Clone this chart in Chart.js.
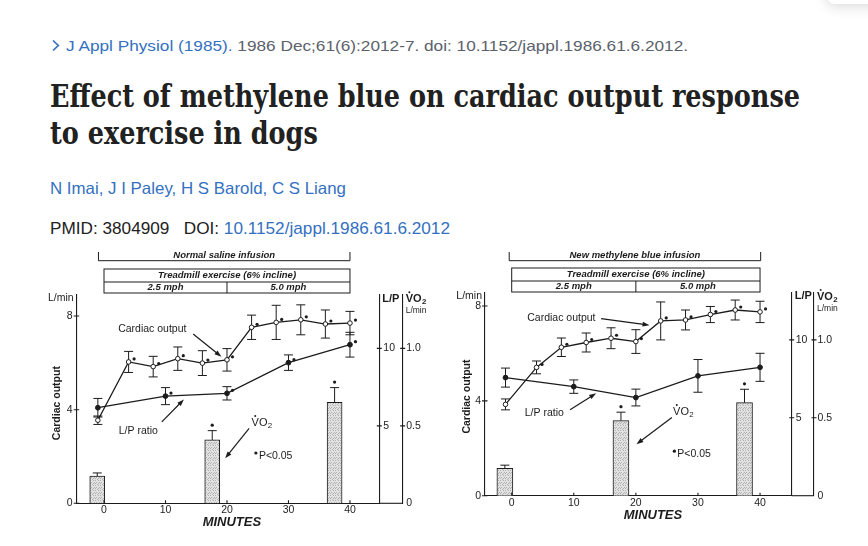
<!DOCTYPE html>
<html>
<head>
<meta charset="utf-8">
<script src="https://cdn.jsdelivr.net/npm/chart.js@4.4.1/dist/chart.umd.min.js"></script>
<style>
  body { margin: 0; width: 868px; height: 546px; background: #fff; position: relative; overflow: hidden;
         font-family: "Liberation Sans", Arial, sans-serif; }
  .t { position: absolute; white-space: nowrap; transform-origin: 0 0; line-height: 1; }
  .blue { color: #3470c0; }
  .grey { color: #5b616b; }
  .title { font-family: "DejaVu Serif", serif; font-weight: bold; font-size: 31px; color: #212121; }
  .popup { position: absolute; left: 827px; top: -40px; width: 80px; height: 44px; background: #fff;
           border-radius: 8px; box-shadow: 0 2px 14px rgba(0,0,0,0.16); }
  canvas { position: absolute; }
</style>
</head>
<body>
<div class="popup"></div>
<svg style="position:absolute;left:0;top:0" width="70" height="60">
  <polyline points="53,40.5 58.3,45.5 53,50.5" fill="none" stroke="#3470c0" stroke-width="1.7"/>
</svg>
<div class="t" id="journal" data-w="622" style="left:66px;top:37.7px;font-size:15px"><span class="blue">J Appl Physiol (1985).</span> <span class="grey">1986 Dec;61(6):2012-7. doi: 10.1152/jappl.1986.61.6.2012.</span></div>
<div class="t title" id="title1" style="left:50px;top:81px">Effect of methylene blue on cardiac output response</div>
<div class="t title" id="title2" style="left:50px;top:118px">to exercise in dogs</div>
<div class="t blue" id="authors" data-w="296" style="left:50px;top:180px;font-size:16.5px">N Imai, J I Paley, H S Barold, C S Liang</div>
<div class="t" id="pmid" data-w="400" style="left:50px;top:219.5px;font-size:17px;color:#212121">PMID: 3804909&nbsp;&nbsp;&nbsp;DOI: <span class="blue">10.1152/jappl.1986.61.6.2012</span></div>

<canvas id="left" width="420" height="295" style="left:20px;top:245px"></canvas>
<canvas id="right" width="420" height="295" style="left:440px;top:245px"></canvas>

<script>
// ---- data ----
const xTicks = [0, 10, 20, 30, 40]
const minutesCO = [-1, 4, 8, 12, 16, 20, 24, 28, 32, 36, 40]
const minutesLP = [-1, 10, 20, 30, 40]
const minutesVO2 = [-1.1, 17.6, 37.5]

// normal saline infusion
const salineCO = [3.55, 6.04, 5.84, 6.18, 5.99, 6.13, 7.52, 7.73, 7.84, 7.66, 7.70]
const salineCOErr = [0.18, 0.45, 0.44, 0.5, 0.53, 0.48, 0.52, 0.73, 0.64, 0.6, 0.5]
const salineCOSig = [0, 1, 1, 1, 1, 1, 1, 1, 1, 1, 1]
const salineLP = [6.17, 6.92, 7.1, 9.08, 10.24]
const salineLPErr = [0.6, 0.55, 0.43, 0.5, 0.8]
const salineLPSig = [0, 1, 1, 1, 1]
const salineVO2 = [0.176, 0.409, 0.652]
const salineVO2Err = [0.02, 0.06, 0.095]
const salineVO2Sig = [0, 1, 1]

// new methylene blue infusion
const blueCO = [3.85, 5.41, 6.26, 6.46, 6.64, 6.5, 7.37, 7.41, 7.64, 7.83, 7.75]
const blueCOErr = [0.23, 0.27, 0.39, 0.4, 0.44, 0.5, 0.8, 0.42, 0.34, 0.42, 0.45]
const blueCOSig = [0, 1, 1, 1, 1, 1, 1, 1, 1, 1, 1]
const blueLP = [7.58, 7.0, 6.3, 7.69, 8.24]
const blueLPErr = [0.61, 0.43, 0.54, 1.05, 0.9]
const blueLPSig = [0, 0, 0, 0, 0]
const blueVO2 = [0.176, 0.482, 0.597]
const blueVO2Err = [0.02, 0.054, 0.086]
const blueVO2Sig = [0, 1, 1]

// ---- header text fitting ----
function fitWidth(el, target){
    let w = el.getBoundingClientRect().width
    el.style.transform = `scaleX(${target / w})`
}
for(let id of ["journal", "authors", "pmid"]){
    let el = document.getElementById(id)
    fitWidth(el, +el.dataset.w)
}
let t1 = document.getElementById("title1")
let titleScale = 750 / t1.getBoundingClientRect().width
t1.style.transform = `scaleX(${titleScale})`
document.getElementById("title2").style.transform = `scaleX(${titleScale})`

// ---- figure drawing ----
const INK = "#1c1c1c"
const FONT = '"Liberation Sans", Arial, sans-serif'

function stipple(){
    // light grey dot screen like the printed bars, dots scattered so no diagonal shows
    let c = document.createElement("canvas")
    c.width = 5; c.height = 5
    let g = c.getContext("2d")
    g.fillStyle = "#e2e2e2"; g.fillRect(0, 0, 5, 5)
    g.fillStyle = "#b0b0b0"
    for(let [px, py] of [[0, 0], [3, 0], [1, 2], [4, 2], [2, 4], [0, 3], [3, 3]]) g.fillRect(px, py, 1, 1)
    return g.createPattern(c, "repeat")
}

function arrow(ctx, x1, y1, x2, y2){
    let a = Math.atan2(y2 - y1, x2 - x1)
    ctx.beginPath()
    ctx.moveTo(x1, y1)
    ctx.lineTo(x2 - 4 * Math.cos(a), y2 - 4 * Math.sin(a))
    ctx.stroke()
    ctx.beginPath()
    ctx.moveTo(x2, y2)
    ctx.lineTo(x2 - 7 * Math.cos(a) + 2.4 * Math.sin(a), y2 - 7 * Math.sin(a) - 2.4 * Math.cos(a))
    ctx.lineTo(x2 - 7 * Math.cos(a) - 2.4 * Math.sin(a), y2 - 7 * Math.sin(a) + 2.4 * Math.cos(a))
    ctx.closePath()
    ctx.fill()
}

function vo2Text(ctx, x, y, size, weight){
    ctx.font = `${weight} ${size}px ${FONT}`
    ctx.textAlign = "left"
    ctx.textBaseline = "middle"
    ctx.fillText("VO", x, y)
    let wV = ctx.measureText("V").width
    let wVO = ctx.measureText("VO").width
    ctx.beginPath()
    ctx.arc(x + wV / 2, y - size * 0.62, size * 0.09, 0, Math.PI * 2)
    ctx.fill()
    ctx.font = `${weight} ${size * 0.72}px ${FONT}`
    ctx.fillText("2", x + wVO + 0.3, y + size * 0.25)
}

function star(ctx, x, y){
    ctx.beginPath()
    ctx.arc(x, y, 1.6, 0, Math.PI * 2)
    ctx.fill()
}

function figurePlugin(p){
    return {
        id: "figure",
        beforeDatasetsDraw(chart){
            let ctx = chart.ctx
            ctx.save()
            ctx.strokeStyle = INK
            ctx.lineWidth = 1
            chart.data.datasets.forEach((ds, i) => {
                let meta = chart.getDatasetMeta(i)
                let ys = chart.scales[ds.yAxisID]
                meta.data.forEach((el, j) => {
                    let v = ds.data[j].y, e = ds.errors[j]
                    let top = ys.getPixelForValue(v + e)
                    let bot = ys.getPixelForValue(ds.upOnly ? v : v - e)
                    ctx.beginPath()
                    ctx.moveTo(el.x, top); ctx.lineTo(el.x, bot)
                    ctx.moveTo(el.x - 4.5, top); ctx.lineTo(el.x + 4.5, top)
                    if(!ds.upOnly){ ctx.moveTo(el.x - 4.5, bot); ctx.lineTo(el.x + 4.5, bot) }
                    ctx.stroke()
                })
            })
            ctx.restore()
        },
        afterDatasetsDraw(chart){
            let ctx = chart.ctx
            ctx.save()
            ctx.fillStyle = INK
            chart.data.datasets.forEach((ds, i) => {
                let meta = chart.getDatasetMeta(i)
                let ys = chart.scales[ds.yAxisID]
                meta.data.forEach((el, j) => {
                    if(!ds.sig[j]) return
                    if(ds.upOnly){
                        star(ctx, el.x, ys.getPixelForValue(ds.data[j].y + ds.errors[j]) - 5.5)
                    } else {
                        star(ctx, el.x + 5.5, el.y - 3)
                    }
                })
            })
            ctx.restore()
        },
        afterDraw(chart){
            let ctx = chart.ctx
            let area = chart.chartArea
            let xs = chart.scales.x, ys = chart.scales.y
            let lp = chart.scales.yLP, vo = chart.scales.yVO2
            let X = v => xs.getPixelForValue(v)
            let Y = v => ys.getPixelForValue(v)
            ctx.save()
            ctx.strokeStyle = INK
            ctx.fillStyle = INK
            ctx.lineWidth = 1.1

            // axis line continues under the right-hand scales
            ctx.beginPath()
            ctx.moveTo(area.right, area.bottom); ctx.lineTo(vo.left, area.bottom)
            ctx.stroke()

            // tick marks
            ctx.beginPath()
            for(let v of [0, 4, 8]){ ctx.moveTo(area.left - 3, Y(v)); ctx.lineTo(area.left + 2.5, Y(v)) }
            for(let v of xTicks){ ctx.moveTo(X(v), area.bottom); ctx.lineTo(X(v), area.bottom - 3) }
            for(let v of [5, 10]){ ctx.moveTo(lp.left - 2.5, lp.getPixelForValue(v)); ctx.lineTo(lp.left + 2.5, lp.getPixelForValue(v)) }
            for(let v of [0.5, 1.0]){ ctx.moveTo(vo.left - 2.5, vo.getPixelForValue(v)); ctx.lineTo(vo.left + 2.5, vo.getPixelForValue(v)) }
            ctx.stroke()

            // infusion bracket and treadmill table
            let top = area.top
            ctx.lineWidth = 1
            ctx.beginPath()
            ctx.moveTo(X(p.bracket[0]), top - p.hdr.bracketEnd)
            ctx.lineTo(X(p.bracket[0]), top - p.hdr.bracket)
            ctx.lineTo(X(p.bracket[1]), top - p.hdr.bracket)
            ctx.lineTo(X(p.bracket[1]), top - p.hdr.bracketEnd)
            ctx.stroke()
            ctx.strokeRect(X(0), top - p.hdr.box, X(40) - X(0), p.hdr.box - p.hdr.boxBottom)
            ctx.beginPath()
            ctx.moveTo(X(0), top - p.hdr.mid); ctx.lineTo(X(40), top - p.hdr.mid)
            ctx.moveTo(X(20), top - p.hdr.mid); ctx.lineTo(X(20), top - p.hdr.boxBottom)
            ctx.stroke()

            ctx.font = `italic bold 9.5px ${FONT}`
            ctx.textAlign = "center"
            ctx.textBaseline = "middle"
            ctx.fillText(p.infusion, (X(p.bracket[0]) + X(p.bracket[1])) / 2, top - p.hdr.text)
            ctx.fillText("Treadmill exercise (6% incline)", X(20), top - (p.hdr.box + p.hdr.mid) / 2)
            ctx.fillText("2.5 mph", X(10), top - (p.hdr.mid + p.hdr.boxBottom) / 2)
            ctx.fillText("5.0 mph", X(30), top - (p.hdr.mid + p.hdr.boxBottom) / 2)

            // axis captions
            ctx.font = `10.5px ${FONT}`
            ctx.textAlign = "right"
            ctx.fillText("L/min", area.left - 3, top + 3.5)
            ctx.font = `bold 11px ${FONT}`
            ctx.textAlign = "left"
            ctx.fillText("L/P", lp.left + 3, top + 3.5)
            vo2Text(ctx, vo.left + 3, top + 4, 11, "bold")
            ctx.font = `8.5px ${FONT}`
            ctx.fillText("L/min", vo.left + 3, top + 15.5)

            ctx.save()
            ctx.translate(area.left - p.yTitleOff, Y(p.yTitle))
            ctx.rotate(-Math.PI / 2)
            ctx.font = `bold 10.5px ${FONT}`
            ctx.textAlign = "center"
            ctx.fillText("Cardiac output", 0, 0)
            ctx.restore()

            ctx.font = `italic bold 13px ${FONT}`
            ctx.textAlign = "center"
            ctx.fillText("MINUTES", X(p.minutes), area.bottom + 19.5)

            // labels and arrows inside the plot
            let n = p.notes
            ctx.font = `10.5px ${FONT}`
            ctx.textAlign = "left"
            ctx.fillText("Cardiac output", X(n.coLabel[0]), Y(n.coLabel[1]))
            ctx.fillText("L/P ratio", X(n.lpLabel[0]), Y(n.lpLabel[1]))
            ctx.lineWidth = 1.2
            for(let a of [n.coArrow, n.lpArrow, n.vo2Arrow]){
                arrow(ctx, X(a[0]), Y(a[1]), X(a[2]), Y(a[3]))
            }
            vo2Text(ctx, X(n.vo2Label[0]), Y(n.vo2Label[1]), 11, "normal")
            star(ctx, X(n.pLabel[0]), Y(n.pLabel[1]) - 3)
            ctx.font = `10.5px ${FONT}`
            ctx.fillText("P<0.05", X(n.pLabel[0]) + 3, Y(n.pLabel[1]))
            ctx.restore()
        }
    }
}

function drawPanel(p){
    let pattern = stipple()
    let lpMax = p.coMax * p.lpPerCo
    let tickFont = {family: FONT, size: 10.5}
    let fixed = vals => scale => { scale.ticks = vals.map(v => ({value: v})) }
    new Chart(document.getElementById(p.canvas), {
        type: "line",
        data: {
            datasets: [
                {
                    label: "Cardiac output", yAxisID: "y", order: 1,
                    data: minutesCO.map((m, i) => ({x: m, y: p.co[i]})),
                    errors: p.coErr, sig: p.coSig,
                    borderColor: INK, borderWidth: 1.3, tension: 0,
                    pointRadius: 2.3, pointBorderWidth: 1, pointBorderColor: INK, pointBackgroundColor: "#fff"
                },
                {
                    label: "L/P ratio", yAxisID: "yLP", order: 2,
                    data: minutesLP.map((m, i) => ({x: m, y: p.lp[i]})),
                    errors: p.lpErr, sig: p.lpSig,
                    borderColor: INK, borderWidth: 1.3, tension: 0,
                    pointRadius: 2.4, pointBorderWidth: 1, pointBorderColor: INK, pointBackgroundColor: INK
                },
                {
                    type: "bar", label: "VO2", yAxisID: "yVO2", order: 3,
                    data: minutesVO2.map((m, i) => ({x: m, y: p.vo2[i]})),
                    errors: p.vo2Err, sig: p.vo2Sig, upOnly: true,
                    backgroundColor: pattern, borderColor: INK, borderWidth: 1, barThickness: p.barW
                }
            ]
        },
        options: {
            responsive: false,
            animation: false,
            events: [],
            layout: {padding: {top: p.padTop, left: 0, right: 0, bottom: 0}},
            plugins: {legend: {display: false}, tooltip: {enabled: false}},
            scales: {
                x: {
                    type: "linear", min: p.xMin, max: p.xMax, offset: false,
                    afterBuildTicks: fixed(xTicks),
                    afterFit: s => { s.height = p.xAxisH },
                    grid: {display: false, drawTicks: false},
                    border: {display: true, color: INK, width: 1.1},
                    ticks: {font: tickFont, color: INK, padding: 1, autoSkip: false, maxRotation: 0}
                },
                y: {
                    position: "left", min: 0, max: p.coMax,
                    afterBuildTicks: fixed([0, 4, 8]),
                    afterFit: s => { s.width = p.axisW[0] },
                    grid: {display: false, drawTicks: false},
                    border: {display: true, color: INK, width: 1.1},
                    ticks: {font: tickFont, color: INK, padding: 4}
                },
                yLP: {
                    position: "right", weight: 0, min: 0, max: lpMax,
                    afterBuildTicks: fixed([5, 10]),
                    afterFit: s => { s.width = p.axisW[1] },
                    grid: {display: false, drawTicks: false},
                    border: {display: true, color: INK, width: 1.1},
                    ticks: {font: tickFont, color: INK, padding: 4}
                },
                yVO2: {
                    position: "right", weight: 1, min: 0, max: lpMax / 10,
                    afterBuildTicks: fixed([0, 0.5, 1.0]),
                    afterFit: s => { s.width = p.axisW[2] },
                    grid: {display: false, drawTicks: false},
                    border: {display: true, color: INK, width: 1.1},
                    ticks: {font: tickFont, color: INK, padding: 3.5,
                            callback: v => v === 0 ? "0" : v.toFixed(1)}
                }
            }
        },
        plugins: [figurePlugin(p)]
    })
}

drawPanel({
    canvas: "left", infusion: "Normal saline infusion",
    co: salineCO, coErr: salineCOErr, coSig: salineCOSig,
    lp: salineLP, lpErr: salineLPErr, lpSig: salineLPSig,
    vo2: salineVO2, vo2Err: salineVO2Err, vo2Sig: salineVO2Sig,
    xMin: -4.44, xMax: 44.77, coMax: 8.9, lpPerCo: 1.511,
    axisW: [56.7, 23.4, 37.3], padTop: 50, xAxisH: 36.7, barW: 15,
    bracket: [-0.9, 40],
    hdr: {bracketEnd: 43, bracket: 34.3, text: 40, box: 26, mid: 13, boxBottom: 2},
    yTitle: 4.28, yTitleOff: 20, minutes: 20.8,
    notes: {
        coLabel: [2.3, 7.45], coArrow: [14.5, 7.23, 19.1, 6.26],
        lpLabel: [2.4, 3.1], lpArrow: [9.4, 3.48, 13, 4.44],
        vo2Label: [24, 3.44], vo2Arrow: [23.6, 3.2, 19.7, 1.92],
        pLabel: [24.7, 2.02]
    }
})

drawPanel({
    canvas: "right", infusion: "New methylene blue infusion",
    co: blueCO, coErr: blueCOErr, coSig: blueCOSig,
    lp: blueLP, lpErr: blueLPErr, lpSig: blueLPSig,
    vo2: blueVO2, vo2Err: blueVO2Err, vo2Sig: blueVO2Sig,
    xMin: -4.3, xMax: 45.1, coMax: 8.56, lpPerCo: 1.522,
    axisW: [45, 22.3, 46], padTop: 47.7, xAxisH: 44.3, barW: 16,
    bracket: [-0.4, 40.1],
    hdr: {bracketEnd: 40.7, bracket: 32, text: 37.7, box: 24.7, mid: 11.7, boxBottom: 0.7},
    yTitle: 4.18, yTitleOff: 18.3, minutes: 22.75,
    notes: {
        coLabel: [2.5, 7.47], coArrow: [14.4, 7.47, 22.2, 7.19],
        lpLabel: [2.1, 3.48], lpArrow: [9.4, 3.62, 13.6, 4.32],
        vo2Label: [26, 3.54], vo2Arrow: [25.8, 3.3, 20.1, 2.17],
        pLabel: [26.2, 1.75]
    }
})
</script>
</body>
</html>
